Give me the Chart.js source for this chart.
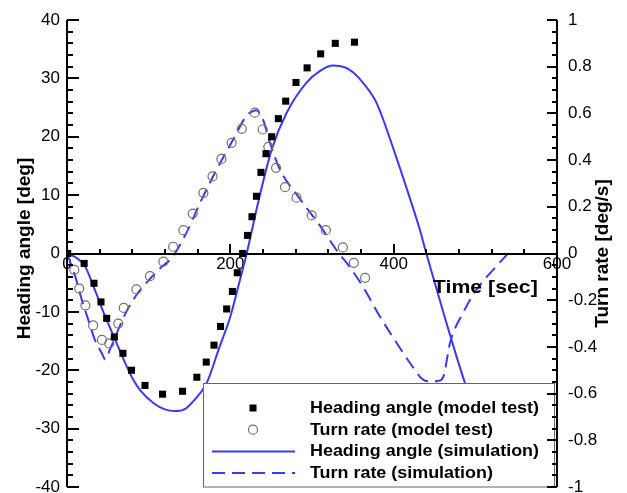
<!DOCTYPE html>
<html>
<head>
<meta charset="utf-8">
<script src="https://cdn.jsdelivr.net/npm/chart.js@4.4.1/dist/chart.umd.min.js"></script>
<style>
  html, body { margin: 0; padding: 0; background: #fff; }
  #wrap { width: 627px; height: 493px; position: relative; }
</style>
</head>
<body>
<div id="wrap"><canvas id="turnChart"></canvas></div>
<script>
// Heading angle, model test [deg]
const headTestTime = [0.8, 21, 33, 41.6, 48.6, 58, 68.5, 79, 95.5, 117, 141.5, 159, 170.5, 180, 188, 195.5, 202.5, 208.5, 215, 221, 226.5, 232, 237.5, 243.7, 250.6, 258.8, 267.8, 280.4, 294, 310.6, 328.5, 352];
const headTestDeg = [0, -1.7, -5.1, -8.3, -11.1, -14.3, -17.1, -20, -22.6, -24.1, -23.6, -21.2, -18.6, -15.7, -12.5, -9.5, -6.5, -3.3, 0, 3.1, 6.3, 9.8, 13.9, 17.1, 20, 23.1, 26.1, 29.3, 31.8, 34.2, 36, 36.2];

// Turn rate, model test [deg/s]
const rateTestTime = [9, 15, 22.5, 32, 42.8, 51.8, 62.8, 69.5, 85, 101.6, 118, 130, 142.5, 154, 167, 178.2, 189, 201.6, 214, 230, 239.6, 246.5, 256, 267, 281, 299.6, 317, 337.8, 351.2, 365];
const rateTestDps = [-0.07, -0.15, -0.222, -0.308, -0.37, -0.385, -0.3, -0.233, -0.154, -0.097, -0.035, 0.029, 0.1, 0.171, 0.26, 0.33, 0.405, 0.474, 0.534, 0.603, 0.531, 0.457, 0.367, 0.284, 0.239, 0.163, 0.1, 0.026, -0.04, -0.104];

// Heading angle, simulation [deg]
const headSimTime = [0, 10, 22, 34, 46.5, 58.8, 73, 81, 90, 105.7, 120, 132, 145, 154.7, 171, 187, 199.6, 210, 220, 234, 250.6, 269, 293.5, 310, 326, 340, 350.6, 365, 379, 400, 420, 432, 439, 452, 464, 476, 488, 500, 512];
const headSimDeg = [0, -0.6, -2.2, -6.2, -10.7, -14.7, -19.3, -21.6, -23.5, -25.6, -26.7, -27, -26.6, -25.3, -22.2, -15.9, -11, -5.5, 0, 8.7, 17.8, 24.1, 29.3, 31.3, 32.2, 31.9, 31, 28.8, 25.8, 17.8, 9.4, 4.1, 0.5, -5.8, -11.6, -17.2, -22.5, -27.3, -31.5];

// Turn rate, simulation [deg/s]
const rateSimTime = [0, 10, 18, 26, 34, 42.5, 47, 52.6, 62.8, 73, 87, 100, 115, 128, 145, 163, 179, 203.6, 220, 228, 232, 236, 240, 248.6, 260, 285, 310, 332, 345, 362, 383, 403.7, 420, 436, 446, 455, 461, 469, 485, 501.6, 522, 540];
const rateSimDps = [0, -0.097, -0.197, -0.283, -0.369, -0.426, -0.454, -0.411, -0.326, -0.247, -0.168, -0.115, -0.06, -0.02, 0.08, 0.217, 0.331, 0.489, 0.591, 0.61, 0.613, 0.6, 0.574, 0.474, 0.365, 0.235, 0.118, 0.005, -0.052, -0.14, -0.269, -0.383, -0.469, -0.54, -0.548, -0.545, -0.526, -0.383, -0.254, -0.154, -0.069, 0];

const xTickLabels = [0, 200, 400, 600];

const BLUE = 'rgb(58, 58, 245)';
const FONT = "'Liberation Sans', Arial, sans-serif";

const pairs = (xs, ys) => xs.map((x, i) => ({ x: x, y: ys[i] }));

// legend entries, drawn as a boxed key over the lower right of the plot
const legendItems = [
  { label: 'Heading angle (model test)', kind: 'square' },
  { label: 'Turn rate (model test)', kind: 'circle' },
  { label: 'Heading angle (simulation)', kind: 'solid' },
  { label: 'Turn rate (simulation)', kind: 'dashed' }
];

// text drawn a little wider than the font's natural width
function wideText(ctx, text, x, y, sx) {
  ctx.save();
  ctx.translate(x, y);
  ctx.scale(sx, 1);
  ctx.fillText(text, 0, 0);
  ctx.restore();
}

const keyBox = {
  id: 'keyBox',
  afterDatasetsDraw(chart) {
    const { ctx, chartArea: a } = chart;
    const left = a.left + 136, right = a.right - 3;
    const top = a.bottom - 104, bottom = a.bottom - 0.5;
    ctx.save();
    ctx.fillStyle = '#fff';
    ctx.fillRect(left, top, right - left, bottom - top);
    ctx.strokeStyle = '#666';
    ctx.lineWidth = 1;
    ctx.strokeRect(left + 0.5, top + 0.5, right - left, bottom - top);

    ctx.font = 'bold 16px ' + FONT;
    ctx.textBaseline = 'alphabetic';
    ctx.textAlign = 'left';
    legendItems.forEach((item, i) => {
      const base = top + 30 + i * 21.7;
      const mid = base - 5;
      const mx = left + 50;
      if (item.kind === 'square') {
        ctx.fillStyle = '#000';
        ctx.fillRect(mx - 3.5, mid - 3.5, 7, 7);
      } else if (item.kind === 'circle') {
        ctx.strokeStyle = '#707070';
        ctx.lineWidth = 1.2;
        ctx.beginPath();
        ctx.arc(mx, mid, 4.5, 0, Math.PI * 2);
        ctx.stroke();
      } else {
        ctx.strokeStyle = BLUE;
        ctx.lineWidth = 2;
        ctx.setLineDash(item.kind === 'dashed' ? [13, 7] : []);
        ctx.beginPath();
        ctx.moveTo(left + 9, mid);
        ctx.lineTo(left + 92, mid);
        ctx.stroke();
        ctx.setLineDash([]);
      }
      ctx.fillStyle = '#000';
      wideText(ctx, item.label, left + 107, base, 1.12);
    });
    ctx.restore();
  }
};

// axis lines, inward tick marks and axis titles
const axisFrame = {
  id: 'axisFrame',
  afterDraw(chart) {
    const { ctx, chartArea: a, scales } = chart;
    const x = scales.x, y = scales.y, y1 = scales.y1;
    const y0 = Math.round(y.getPixelForValue(0));
    const L = Math.round(a.left), R = Math.round(a.right);
    const T = Math.round(a.top), B = Math.round(a.bottom);
    ctx.save();
    ctx.globalAlpha = 1;
    ctx.globalCompositeOperation = 'source-over';
    ctx.fillStyle = '#000';

    // axis lines, 2px
    ctx.fillRect(L - 1, T, 2, B - T);
    ctx.fillRect(R - 1, T, 2, B - T);
    ctx.fillRect(L, y0 - 1, R - L, 2);

    // heading axis: minor every 2 deg, major every 10
    for (let i = 0; i <= 40; i++) {
      const py = Math.round(y.getPixelForValue(-40 + i * 2));
      const len = i % 5 === 0 ? 12 : 6;
      ctx.fillRect(L, py - 1, len, 2);
    }
    // turn-rate axis: minor every 0.05, major every 0.2
    for (let i = 0; i <= 40; i++) {
      const py = Math.round(y1.getPixelForValue(-1 + i * 0.05));
      const len = i % 4 === 0 ? 10 : 5;
      ctx.fillRect(R - len, py - 1, len, 2);
    }
    // time axis: minor every 40 s, major every 200 s
    for (let i = 0; i <= 15; i++) {
      const px = Math.round(x.getPixelForValue(i * 40));
      const len = i % 5 === 0 ? 10 : 5;
      ctx.fillRect(px - 1, y0 - len, 2, len);
    }

    ctx.textAlign = 'center';
    ctx.textBaseline = 'middle';
    ctx.font = 'bold 19px ' + FONT;
    ctx.save();
    ctx.translate(25, (a.top + a.bottom) / 2 - 5);
    ctx.rotate(-Math.PI / 2);
    ctx.fillText('Heading angle [deg]', 0, 0);
    ctx.restore();
    ctx.save();
    ctx.translate(a.right + 46, (a.top + a.bottom) / 2);
    ctx.rotate(-Math.PI / 2);
    ctx.fillText('Turn rate [deg/s]', 0, 0);
    ctx.restore();

    ctx.textAlign = 'left';
    ctx.textBaseline = 'alphabetic';
    wideText(ctx, 'Time [sec]', x.getPixelForValue(448), y0 + 39, 1.12);
    ctx.restore();
  }
};

const tickFont = { family: FONT, size: 17 };

new Chart(document.getElementById('turnChart'), {
  type: 'scatter',
  data: {
    datasets: [
      {
        label: 'Heading angle (model test)',
        data: pairs(headTestTime, headTestDeg),
        yAxisID: 'y',
        pointStyle: 'rect',
        pointRadius: 5,
        backgroundColor: '#000',
        borderWidth: 0
      },
      {
        label: 'Turn rate (model test)',
        data: pairs(rateTestTime, rateTestDps),
        yAxisID: 'y1',
        pointStyle: 'circle',
        pointRadius: 4.5,
        backgroundColor: 'rgba(255,255,255,0)',
        borderColor: '#707070',
        borderWidth: 1.2
      },
      {
        label: 'Heading angle (simulation)',
        data: pairs(headSimTime, headSimDeg),
        yAxisID: 'y',
        showLine: true,
        pointRadius: 0,
        borderColor: BLUE,
        borderWidth: 2,
        cubicInterpolationMode: 'monotone'
      },
      {
        label: 'Turn rate (simulation)',
        data: pairs(rateSimTime, rateSimDps),
        yAxisID: 'y1',
        showLine: true,
        pointRadius: 0,
        borderColor: BLUE,
        borderWidth: 2,
        borderDash: [13, 7],
        cubicInterpolationMode: 'monotone'
      }
    ]
  },
  options: {
    responsive: true,
    maintainAspectRatio: false,
    animation: false,
    layout: { padding: { top: 20, bottom: 6, left: 0, right: 0 } },
    plugins: { legend: { display: false }, tooltip: { enabled: false } },
    scales: {
      x: {
        type: 'linear',
        min: 0,
        max: 600,
        position: { y: 0 },
        grid: { display: false, drawTicks: false },
        border: { display: false },
        afterBuildTicks: (s) => { s.ticks = xTickLabels.map(v => ({ value: v })); },
        ticks: { font: tickFont, color: '#000', padding: 1, maxRotation: 0, autoSkip: false },
        afterFit: (s) => { s.height = 0; s.paddingLeft = 0; s.paddingRight = 0; }
      },
      y: {
        position: 'left',
        min: -40,
        max: 40,
        grid: { display: false, drawTicks: false },
        border: { display: false },
        ticks: { stepSize: 10, font: tickFont, color: '#000', padding: 7 },
        afterFit: (s) => { s.width = 67; s.paddingTop = 0; s.paddingBottom = 0; }
      },
      y1: {
        position: 'right',
        min: -1,
        max: 1,
        grid: { display: false, drawTicks: false },
        border: { display: false },
        ticks: {
          stepSize: 0.2,
          font: tickFont,
          color: '#000',
          padding: 11,
          callback: (v) => String(+v.toFixed(1))
        },
        afterFit: (s) => { s.width = 70; s.paddingTop = 0; s.paddingBottom = 0; }
      }
    }
  },
  plugins: [keyBox, axisFrame]
});
</script>
</body>
</html>
